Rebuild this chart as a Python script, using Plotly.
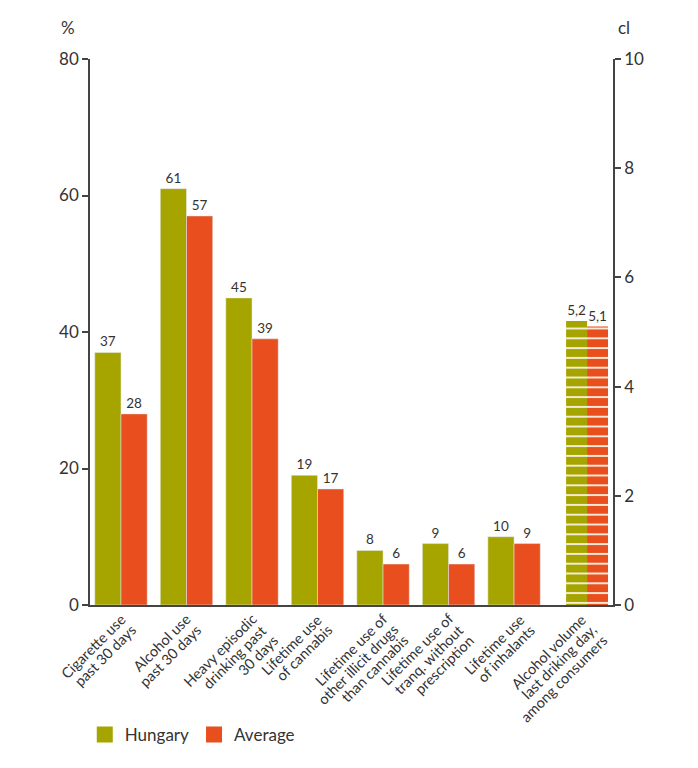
import math
import plotly.graph_objects as go

categories = [
    "Cigarette use<br>past 30 days",
    "Alcohol use<br>past 30 days",
    "Heavy episodic<br>drinking past<br>30 days",
    "Lifetime use<br>of cannabis",
    "Lifetime use of<br>other illicit drugs<br>than cannabis",
    "Lifetime use of<br>tranq. without<br>prescription",
    "Lifetime use<br>of inhalants",
    "Alcohol volume<br>last driking day,<br>among consumers",
]
hungary_pct = [37, 61, 45, 19, 8, 9, 10]
average_pct = [28, 57, 39, 17, 6, 6, 9]
hungary_cl = [5.2]
average_cl = [5.1]
hungary_cl_text = ["5,2"]
average_cl_text = ["5,1"]
left_ticks = [0, 20, 40, 60, 80]
right_ticks = [0, 2, 4, 6, 8, 10]

GREEN = "#a6a500"
ORANGE = "#e84e1e"
TXT = "#333333"
FONT = "Lato"

fig = go.Figure()
fig.add_trace(go.Bar(x=categories[:7], y=hungary_pct, name="Hungary", marker_color=GREEN,
                     text=[str(v) for v in hungary_pct], textposition="outside",
                     textfont=dict(size=13.5, color=TXT), cliponaxis=False, showlegend=False))
fig.add_trace(go.Bar(x=categories[:7], y=average_pct, name="Average", marker_color=ORANGE,
                     text=[str(v) for v in average_pct], textposition="outside",
                     textfont=dict(size=13.5, color=TXT), cliponaxis=False, showlegend=False))

pattern = dict(shape="-", fgcolor="#f6f1e0", fgopacity=0.95, size=9.8, solidity=0.2, fillmode="overlay")
fig.add_trace(go.Bar(x=categories[7:], y=hungary_cl, yaxis="y2", width=0.32, offset=-0.206,
                     marker=dict(color=GREEN, pattern=pattern, line=dict(width=0)),
                     text=hungary_cl_text, textposition="outside",
                     textfont=dict(size=13.5, color=TXT), cliponaxis=False, showlegend=False))
fig.add_trace(go.Bar(x=categories[7:], y=average_cl, yaxis="y2", width=0.32, offset=0.114,
                     marker=dict(color=ORANGE, pattern=pattern, line=dict(width=0)),
                     text=average_cl_text, textposition="outside",
                     textfont=dict(size=13.5, color=TXT), cliponaxis=False, showlegend=False))

# legend entries
fig.add_trace(go.Scatter(x=[None], y=[None], mode="markers", name="Hungary",
                         marker=dict(symbol="square", size=20, color=GREEN)))
fig.add_trace(go.Scatter(x=[None], y=[None], mode="markers", name="Average",
                         marker=dict(symbol="square", size=20, color=ORANGE)))

# rotated, right-aligned, tightly spaced category labels (one annotation per line)
ANG = 45.0
LBL_SIZE = 14.5
LINE_STEP = 15.0
BOX_H = LBL_SIZE * 1.3 + 2
label_nudge = [0, 0, 0, 0, 0, 0, 6, 2]
ca, sa = math.cos(math.radians(ANG)), math.sin(math.radians(ANG))
base_dx, base_dy = 3.0, 10.0
annotations = []
for i, cat in enumerate(categories):
    for j, line in enumerate(cat.split("<br>")):
        ex = base_dx + label_nudge[i] + j * LINE_STEP * sa
        ey = base_dy + j * LINE_STEP * ca
        ax_ = ex + sa * BOX_H / 2
        ay_ = ey - ca * BOX_H / 2
        annotations.append(dict(
            text=line, x=cat, xref="x", y=0, yref="paper", showarrow=False,
            textangle=-ANG, xanchor="right", yanchor="top",
            xshift=ax_, yshift=-ay_, font=dict(size=LBL_SIZE, color=TXT, family=FONT)))

annotations += [
    dict(text="%", x=-0.042, y=1.057, xref="paper", yref="paper", showarrow=False,
         xanchor="center", yanchor="middle", font=dict(size=17, color=TXT)),
    dict(text="cl", x=1.021, y=1.057, xref="paper", yref="paper", showarrow=False,
         xanchor="center", yanchor="middle", font=dict(size=17, color=TXT)),
]

fig.update_layout(
    width=698, height=768,
    margin=dict(l=82, r=93, t=51, b=171, autoexpand=False),
    paper_bgcolor="white", plot_bgcolor="white",
    font=dict(family=FONT, color=TXT),
    barmode="group", bargap=0.2, bargroupgap=0,
    xaxis=dict(type="category", range=[-0.473, 7.51], showline=True, linecolor="#444", linewidth=1.5,
               ticks="", showticklabels=False, showgrid=False, automargin=False),
    yaxis=dict(range=[0, 80], tickvals=left_ticks, showline=True, linecolor="#444", linewidth=1.5,
               ticks="outside", ticklen=6, tickcolor="#444", tickwidth=1.5,
               tickfont=dict(size=17, color=TXT), showgrid=False, zeroline=False, automargin=False),
    yaxis2=dict(range=[0, 10], tickvals=right_ticks, overlaying="y", side="right", showline=True,
                linecolor="#444", linewidth=1.5, ticks="outside", ticklen=6, tickcolor="#444",
                tickwidth=1.5, tickfont=dict(size=17, color=TXT), showgrid=False, zeroline=False,
                automargin=False),
    legend=dict(orientation="h", x=-0.01, y=-0.238, xanchor="left", yanchor="middle",
                font=dict(size=17, color=TXT), itemsizing="trace", traceorder="normal"),
    annotations=annotations,
)

fig.write_html("out.html")
